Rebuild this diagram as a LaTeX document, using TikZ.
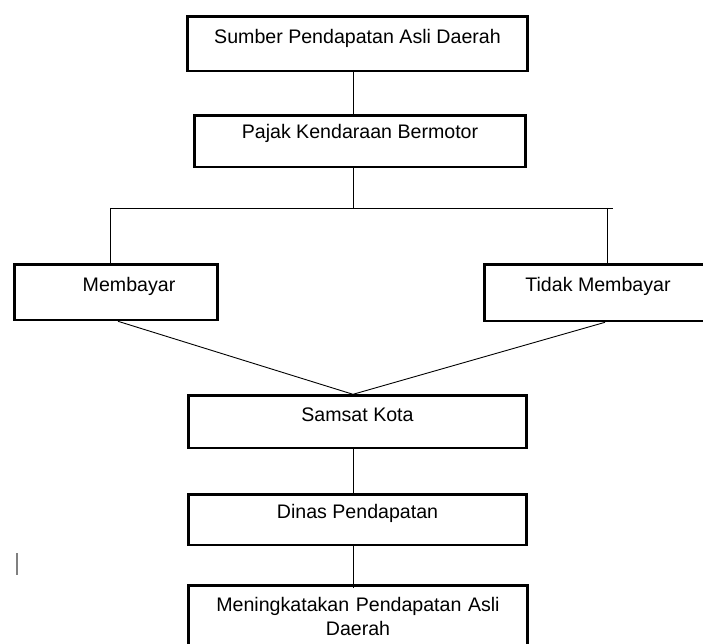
\documentclass[tikz,border=0pt]{standalone}
\usepackage{fontspec}
\setmainfont{Liberation Sans}
\usepackage{tikz}
\usetikzlibrary{positioning}

\begin{document}
\begin{tikzpicture}[
  x=1pt, y=-1pt,
  every node/.style={font=\fontsize{19.6}{24}\selectfont},
  kotak/.style={rectangle,draw,line width=2.6pt,anchor=north,inner sep=0pt},
  garis/.style={line width=0.9pt}
]
  \useasboundingbox (0,0) rectangle (703,644);
  \node[kotak,minimum width=340.4,text height=26.7,text depth=27.7] (sumber) at (357.5,15.3) {Sumber Pendapatan Asli Daerah};
  \node[kotak,minimum width=331.4,text height=22.7,text depth=28.7] (pajak) at (360,114.3) {Pajak Kendaraan Bermotor};
  \node[kotak,minimum width=203.4,text height=26.7,text depth=28.7] (bayar) at (116,263.3) {\hspace*{26pt}Membayar};
  \node[kotak,minimum width=227.4,text height=26.7,text depth=29.7] (tidak) at (598,263.3) {Tidak Membayar};
  \node[kotak,minimum width=338.4,text height=25.7,text depth=26.7] (samsat) at (357.5,394.3) {Samsat Kota};
  \node[kotak,minimum width=338.4,text height=23.7,text depth=26.7] (dinas) at (357.5,493.3) {Dinas Pendapatan};
  \node[kotak,text width=339.4,align=center,text height=25.7,text depth=40] (naik) at (358,584.3) {Meningkatakan Pendapatan Asli\\Daerah};

  \coordinate (tengah) at (353,208);
  \coordinate (kiri) at (110,208);
  \coordinate (kanan) at (607,208);
  \coordinate (ujung) at (613,208);

  \draw[garis] (sumber.south -| tengah) -- (pajak.north -| tengah);
  \draw[garis] (pajak.south -| tengah) -- (tengah);
  \draw[garis] (kiri) -- (ujung);
  \draw[garis] (kiri) -- (kiri |- bayar.north);
  \draw[garis] (kanan) -- (kanan |- tidak.north);
  \draw[garis] ([xshift=2pt]bayar.south) -- (samsat.north -| tengah);
  \draw[garis] ([xshift=7pt]tidak.south) -- (samsat.north -| tengah);
  \draw[garis] (samsat.south -| tengah) -- (dinas.north -| tengah);
  \draw[garis] (dinas.south -| tengah) -- ([yshift=-4pt]naik.north -| tengah);
  \draw[gray,line width=1.2pt] (17,553) -- (17,575);
\end{tikzpicture}
\end{document}
